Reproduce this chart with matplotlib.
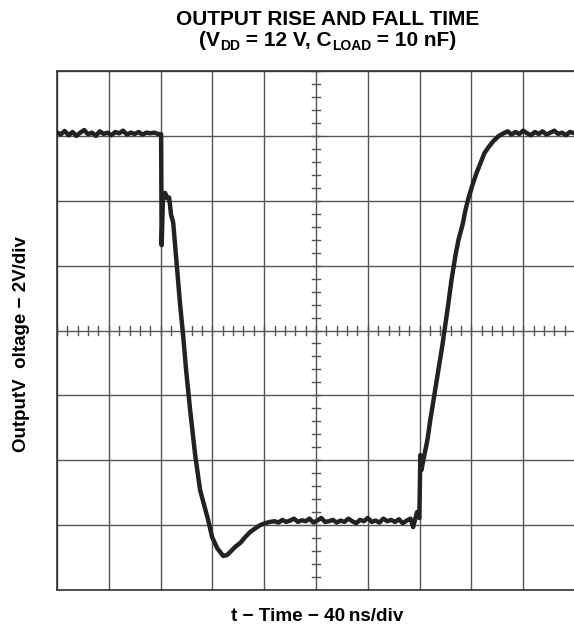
import matplotlib
matplotlib.use("Agg")
import matplotlib.pyplot as plt
import numpy as np

plt.rcParams['font.family'] = ['Liberation Sans', 'DejaVu Sans']

# scope trace, time in ns, output in V
t_ns = [0, 3, 6, 9, 12, 15, 18, 21, 24, 27, 30, 33, 36, 39, 42, 45, 48, 51, 54, 57,
        60, 63, 66, 69, 72, 75, 78, 80.4, 80.8, 81.9, 83.5, 85.0, 86.6, 88.1, 89.7,
        91.2, 93.5, 95.1, 97.4, 99.7, 102.8, 106.7, 110.5, 113.6, 116.7, 119.8, 123.7,
        128.3, 131.4, 133.7, 137.6, 141.5, 145.3, 149.2, 153.1, 156.9, 160.8, 164.6,
        168, 171, 174, 177, 180, 183, 186, 189, 192, 195, 198, 201, 204, 207, 210, 213,
        216, 219, 222, 225, 228, 231, 234, 237, 240, 243, 246, 249, 252, 255, 258, 261,
        264, 267, 270, 273, 275, 278, 279.8, 280.6, 281.4, 283.7, 286, 288.3, 291.4,
        294.5, 297.6, 301.5, 304.6, 307.7, 310, 313.1, 315.4, 317.7, 320.8, 323.9, 327,
        330.1, 333.2, 337, 340.9, 344.8, 348, 351, 354, 357, 360, 363, 366, 369, 372,
        375, 378, 381, 384, 387, 390, 393, 396, 400]
v_out = [12.1, 12.05, 12.15, 12.02, 12.12, 12.0, 12.1, 12.18, 12.05, 12.1, 12.0, 12.14,
         12.06, 12.1, 12.02, 12.12, 12.08, 12.16, 12.04, 12.1, 12.06, 12.12, 12.04, 12.1,
         12.08, 12.1, 12.06, 12.05, 8.63, 10.17, 10.24, 10.08, 10.1, 9.56, 9.34,
         8.63, 7.55, 6.78, 5.86, 4.78, 3.55, 2.16, 1.08, 0.62, 0.16, -0.37, -0.71,
         -0.95, -0.92, -0.83, -0.67, -0.55, -0.37, -0.21, -0.1, 0.0, 0.06, 0.1,
         0.12, 0.08, 0.16, 0.1, 0.14, 0.2, 0.1, 0.15, 0.12, 0.2, 0.08, 0.14, 0.22, 0.1,
         0.12, 0.16, 0.08, 0.14, 0.1, 0.2, 0.12, 0.06, 0.16, 0.12, 0.22, 0.1, 0.14, 0.08,
         0.2, 0.12, 0.16, 0.1, 0.18, 0.06, 0.14, 0.2, -0.06, 0.4, 0.22, 2.16,
         1.7, 2.16, 2.62, 3.25, 4.01, 4.78, 5.55, 6.63, 7.55, 8.32, 8.79, 9.25, 9.71,
         10.08, 10.48, 10.85, 11.16, 11.47, 11.65, 11.84, 11.99, 12.08, 12.14, 12.04,
         12.12, 12.06, 12.16, 12.08, 12.02, 12.12, 12.06, 12.14, 12.04, 12.1, 12.16,
         12.06, 12.1, 12.02, 12.12, 12.08]

grid_t = np.arange(0, 401, 40)
grid_v = np.arange(-2, 15, 2)

W, H = 574, 631
fig = plt.figure(figsize=(W / 100, H / 100), dpi=100)
ax = fig.add_axes([57 / W, 41 / H, 518 / W, 519 / H])
ax.set_xlim(0, 400)
ax.set_ylim(-2, 14)

gc = '#555555'
for g in grid_t:
    ax.axvline(g, color=gc, lw=1.0, zorder=1)
for g in grid_v:
    ax.axhline(g, color=gc, lw=1.0, zorder=1)

# minor ticks on the centre cross
for m in np.arange(0, 401, 8):
    ax.plot([m, m], [5.85, 6.15], color=gc, lw=1.0, zorder=1)
for m in np.arange(-2, 14.01, 0.4):
    ax.plot([197, 203], [m, m], color=gc, lw=1.0, zorder=1)

ax.plot(t_ns, v_out, color='#222222', lw=3.2, solid_joinstyle='round',
        solid_capstyle='round', zorder=3)

ax.set_xticks([])
ax.set_yticks([])
for s in ax.spines.values():
    s.set_color('#333333')
    s.set_linewidth(1.2)

fig.text(328 / W, 1 - 25 / H, 'OUTPUT RISE AND FALL TIME', ha='center', va='baseline',
         fontsize=15, fontweight='bold')

# second title line with subscripts, laid out piece by piece
pieces = [('(V', 15, 0), ('DD', 10, -4), (' = 12 V, C', 15, 0), ('LOAD', 10, -4),
          (' = 10 nF)', 15, 0)]
renderer = fig.canvas.get_renderer()
widths = []
for txt, fs, dy in pieces:
    tt = fig.text(0, 0, txt, fontsize=fs, fontweight='bold')
    widths.append(tt.get_window_extent(renderer).width)
    tt.remove()
x0 = 328 - sum(widths) / 2
for (txt, fs, dy), w in zip(pieces, widths):
    fig.text(x0 / W, 1 - (46 - dy) / H, txt, fontsize=fs, fontweight='bold',
             ha='left', va='baseline')
    x0 += w

fig.text(317 / W, 1 - 621 / H, 't \u2212 Time \u2212 40\u2009ns/div', ha='center',
         va='baseline', fontsize=13.6, fontweight='bold')
fig.text(22 / W, 1 - 344 / H, 'OutputV  oltage \u2212 2V/div', ha='center', va='center',
         rotation=90, fontsize=13.5, fontweight='bold')

fig.savefig('out.png', dpi=100)
